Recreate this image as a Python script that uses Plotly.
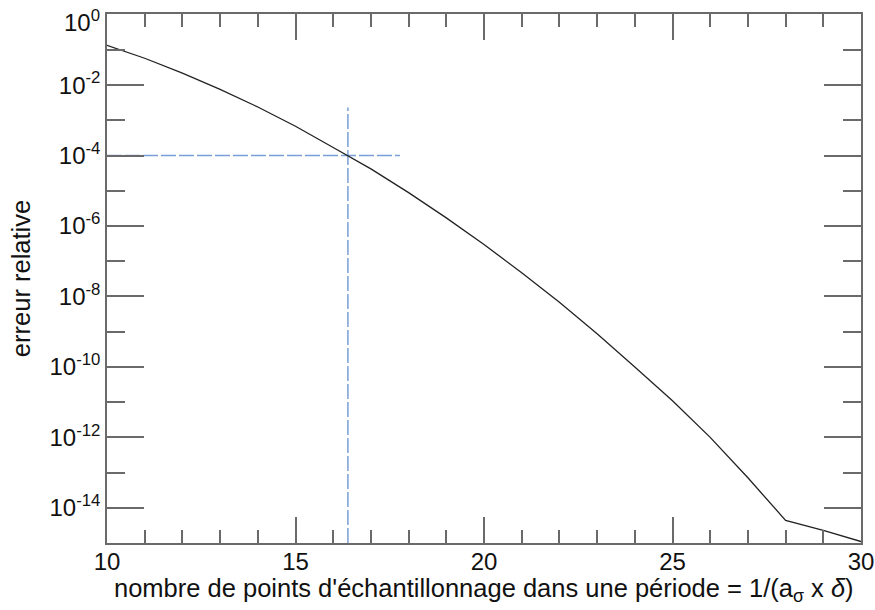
import math
import plotly.graph_objects as go

# data
x_vals = [10, 11, 12, 13, 14, 15, 16, 17, 18, 19, 20, 21, 22, 23, 24, 25, 26, 27, 28, 29, 30]
err_vals = [1.35e-1, 5.8e-2, 2.2e-2, 7.6e-3, 2.4e-3, 6.8e-4, 1.7e-4, 4.2e-5, 8.9e-6,
            1.7e-6, 3.0e-7, 4.7e-8, 6.8e-9, 8.7e-10, 1.0e-10, 1.1e-11, 1.0e-12,
            7.1e-14, 4.4e-15, 2.3e-15, 1.1e-15]

# crosshair marking 1e-4
cross_x = 16.39
cross_y = 1e-4
hline_x = [10, 17.77]
vline_y = [1e-15, 2.3e-3]

y_tickvals = [1e0, 1e-2, 1e-4, 1e-6, 1e-8, 1e-10, 1e-12, 1e-14]
y_ticktext = ["10<sup>0</sup>", "10<sup>-2</sup>", "10<sup>-4</sup>", "10<sup>-6</sup>",
              "10<sup>-8</sup>", "10<sup>-10</sup>", "10<sup>-12</sup>", "10<sup>-14</sup>"]
y_minor = [1e-1, 1e-3, 1e-5, 1e-7, 1e-9, 1e-11, 1e-13, 1e-15]
x_tickvals = [10, 15, 20, 25, 30]

x_title = "nombre de points d'échantillonnage dans une période = 1/(a<sub>σ</sub> x <i>δ</i>)"
y_title = "erreur relative"

font = "Liberation Sans, Arial, Helvetica, sans-serif"
blue = "#7a9fd6"
axcol = "#6a6a6a"
txtcol = "#111111"

fig = go.Figure()
fig.add_trace(go.Scatter(x=hline_x, y=[cross_y, cross_y], mode="lines",
                         line=dict(color=blue, width=1.5, dash="15px,3px"), showlegend=False))
fig.add_trace(go.Scatter(x=[cross_x, cross_x], y=vline_y, mode="lines",
                         line=dict(color=blue, width=1.5, dash="15px,3px"), showlegend=False))
fig.add_trace(go.Scatter(x=x_vals, y=err_vals, mode="lines",
                         line=dict(color="#222222", width=1.3), showlegend=False))

# x-axis title
fig.add_annotation(text=x_title, xref="paper", yref="paper", x=0.5, y=0,
                   xanchor="center", yanchor="middle", yshift=-47, showarrow=False,
                   font=dict(size=25.5, family=font, color=txtcol))
# top tick label (sits slightly below the top edge, as in the original)
fig.add_annotation(text=y_ticktext[0], xref="paper", yref="y", x=0, y=math.log10(y_tickvals[0]),
                   xanchor="right", yanchor="middle", xshift=-5, yshift=-6, showarrow=False,
                   font=dict(size=24, family=font, color=txtcol))

fig.update_layout(
    width=875, height=610,
    margin=dict(l=107, r=14, t=14, b=67, autoexpand=False),
    paper_bgcolor="white", plot_bgcolor="white",
    font=dict(family=font, size=24, color=txtcol),
    xaxis=dict(
        range=[10, 30], tickvals=x_tickvals, ticks="inside", ticklen=26, tickwidth=1.5,
        tickcolor=axcol, showline=True, linecolor=axcol, linewidth=1.5, mirror="ticks",
        showgrid=False, zeroline=False, automargin=False, ticklabelstandoff=-4,
        ticklabeloverflow="allow",
        minor=dict(dtick=1, ticks="inside", ticklen=13, tickwidth=1.5, tickcolor=axcol, showgrid=False),
        tickfont=dict(size=24),
    ),
    yaxis=dict(
        type="log", range=[-15, 0.02], tickvals=y_tickvals[1:], ticktext=y_ticktext[1:],
        ticks="inside", ticklen=37, tickwidth=1.5, tickcolor=axcol,
        showline=True, linecolor=axcol, linewidth=1.5, mirror="ticks",
        showgrid=False, zeroline=False, automargin=False, ticklabeloverflow="allow",
        minor=dict(tickvals=y_minor, ticks="inside", ticklen=18, tickwidth=1.5, tickcolor=axcol, showgrid=False),
        title=dict(text=y_title, font=dict(size=25.5), standoff=12),
        tickfont=dict(size=24),
    ),
)

fig.write_html("out.html", config={"displayModeBar": False},
               post_script="document.body.style.margin='0';")
